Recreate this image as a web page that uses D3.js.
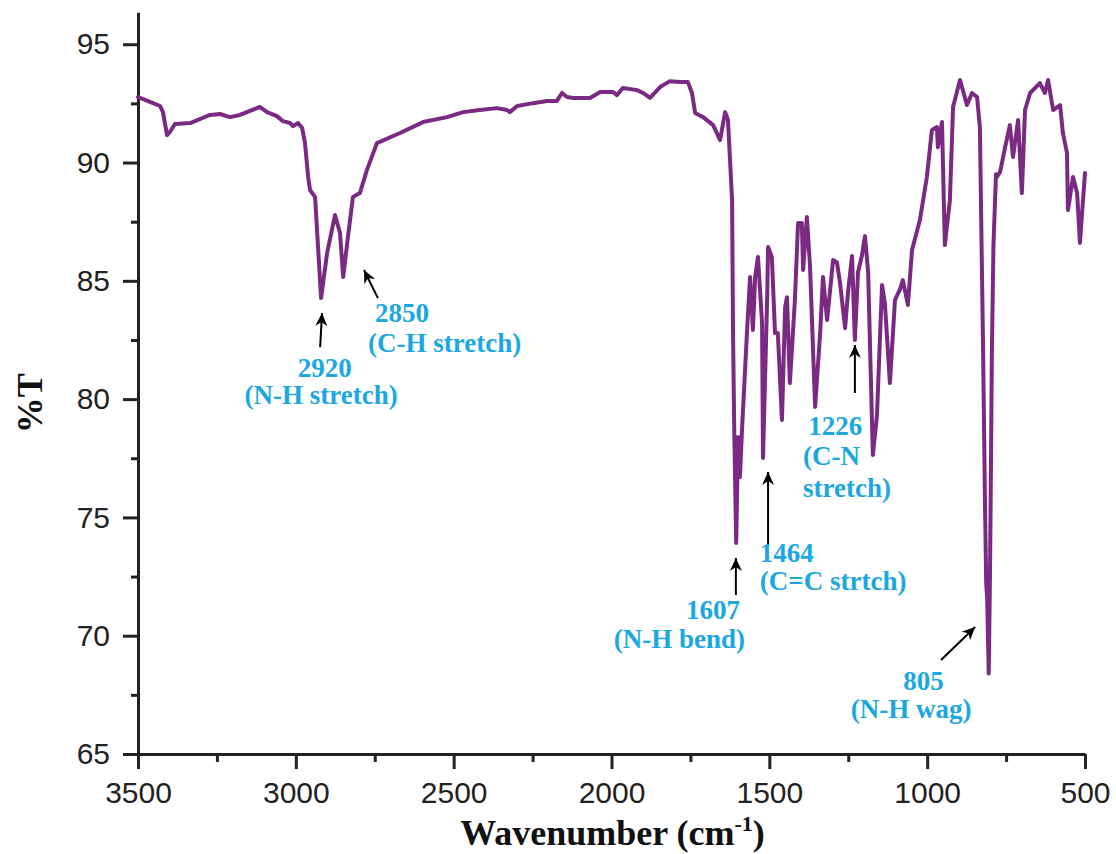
<!DOCTYPE html>
<html>
<head>
<meta charset="utf-8">
<script src="https://cdn.jsdelivr.net/npm/d3@7/dist/d3.min.js"></script>
<style>
  html, body { margin: 0; padding: 0; background: #fff; }
  svg { display: block; }
</style>
</head>
<body>
<svg id="chart" width="1116" height="854"></svg>
<script>
// ---- Data ----
const wavenumber = [3500,3462,3430,3421,3408,3399,3383,3335,3272,3240,3209,3177,3114,3091,3060,3041,3018,3009,2993,2980,2971,2961,2955,2939,2920,2901,2876,2860,2850,2835,2819,2797,2775,2743,2670,2597,2521,2470,2417,2363,2331,2322,2299,2249,2204,2173,2157,2141,2122,2068,2036,1995,1983,1964,1919,1900,1878,1846,1815,1783,1758,1745,1735,1710,1678,1656,1640,1631,1618,1615,1611,1605,1599,1593,1587,1571,1561,1552,1545,1536,1523,1520,1507,1504,1492,1482,1473,1460,1450,1444,1435,1419,1409,1397,1393,1381,1371,1355,1339,1330,1317,1298,1286,1276,1260,1251,1238,1229,1219,1207,1197,1187,1181,1172,1159,1143,1134,1118,1102,1086,1077,1061,1048,1023,1001,985,969,966,953,944,928,918,896,874,858,842,833,823,817,813,810,805,801,798,795,790,782,779,769,753,738,728,712,700,690,674,643,627,617,601,579,570,557,554,538,525,516,500];
const transmittance = [92.77,92.56,92.39,92.13,91.16,91.29,91.63,91.67,92.01,92.05,91.92,92.01,92.35,92.13,91.96,91.75,91.67,91.54,91.67,91.46,90.82,89.39,88.84,88.54,84.27,86.17,87.78,87.02,85.16,86.85,88.54,88.71,89.68,90.82,91.25,91.71,91.92,92.13,92.22,92.30,92.22,92.13,92.39,92.51,92.60,92.60,92.94,92.77,92.73,92.73,92.98,92.98,92.85,93.15,93.06,92.94,92.73,93.19,93.44,93.40,93.40,92.94,92.09,91.92,91.58,90.95,92.13,91.80,88.41,82.79,78.57,73.92,78.40,76.71,78.57,82.79,85.16,82.92,85.16,86.01,83.22,77.51,84.19,86.43,86.01,82.79,82.79,79.12,83.89,84.31,80.68,84.19,87.44,87.44,85.46,87.70,85.58,79.67,82.79,85.16,83.34,85.88,85.79,84.91,83.00,84.48,86.05,82.50,85.37,86.05,86.89,85.37,82.24,77.64,79.33,84.82,84.06,80.68,84.19,84.65,85.03,83.98,86.30,87.57,89.39,91.37,91.50,90.65,91.71,86.51,88.41,92.35,93.49,92.43,92.94,92.77,91.50,82.24,75.74,72.20,71.60,68.40,72.50,77.00,82.00,86.50,89.50,89.39,89.60,90.65,91.58,90.23,91.80,88.71,92.22,92.94,93.36,92.94,93.49,92.22,92.43,91.25,90.40,87.99,89.39,88.71,86.60,89.56];

const xMajorTicks = [3500,3000,2500,2000,1500,1000,500];
const xMinorTicks = [3250,2750,2250,1750,1250,750];
const yMajorTicks = [65,70,75,80,85,90,95];
const yMinorTicks = [67.5,72.5,77.5,82.5,87.5,92.5];

// Annotation text: [wavenumber, %T, anchor, label]
const annotationLabels = [
  [2908, 80.95, "middle", "2920"],
  [2920, 79.78, "middle", "(N-H stretch)"],
  [2749, 83.26, "start", "2850"],
  [2771, 81.99, "start", "(C-H stretch)"],
  [1377, 78.48, "start", "1226"],
  [1393, 77.21, "start", "(C-N"],
  [1393, 75.86, "start", "stretch)"],
  [1530, 73.10, "start", "1464"],
  [1530, 71.95, "start", "(C=C strtch)"],
  [1593, 70.70, "end", "1607"],
  [1577, 69.50, "end", "(N-H bend)"],
  [1012, 67.72, "middle", "805"],
  [1051, 66.52, "middle", "(N-H wag)"]
];
// Arrows: [tail wavenumber, tail %T, tip wavenumber, tip %T]
const annotationArrows = [
  [2923, 82.20, 2917, 83.64],
  [2740, 84.27, 2784, 85.46],
  [1229, 80.26, 1229, 82.29],
  [1504, 73.83, 1504, 76.92],
  [1606, 71.72, 1606, 73.28],
  [956, 68.97, 848, 70.37]
];

// ---- Layout ----
const svg = d3.select("#chart");
const mLeft = 138, mRight = 1085, mTop = 12.3, mBottom = 754;

const x = d3.scaleLinear().domain([3500, 500]).range([mLeft, mRight]);
const y = d3.scaleLinear().domain([65, 96.35]).range([mBottom, mTop]);

const axisColor = "#222";
const tickFont = "'Liberation Sans', Arial, sans-serif";
const serif = "'Liberation Serif', 'Times New Roman', serif";

// Bottom axis
svg.append("g").attr("transform", `translate(0,${mBottom})`)
  .call(d3.axisBottom(x).tickValues(xMajorTicks).tickFormat(d3.format("d")).tickSize(15).tickSizeOuter(0).tickPadding(13));
svg.append("g").attr("transform", `translate(0,${mBottom})`)
  .call(d3.axisBottom(x).tickValues(xMinorTicks).tickFormat("").tickSize(8).tickSizeOuter(0))
  .call(g => g.select(".domain").remove());

// Left axis
svg.append("g").attr("transform", `translate(${mLeft},0)`)
  .call(d3.axisLeft(y).tickValues(yMajorTicks).tickFormat(d3.format("d")).tickSize(15).tickSizeOuter(0).tickPadding(13));
svg.append("g").attr("transform", `translate(${mLeft},0)`)
  .call(d3.axisLeft(y).tickValues(yMinorTicks).tickFormat("").tickSize(7).tickSizeOuter(0))
  .call(g => g.select(".domain").remove());

svg.selectAll(".domain, .tick line").attr("stroke", axisColor).attr("stroke-width", 3);
svg.selectAll(".tick text").attr("fill", axisColor).attr("font-family", tickFont).attr("font-size", 30);

// Axis titles
svg.append("text")
  .attr("x", (mLeft + mRight) / 2 + 1).attr("y", 845)
  .attr("text-anchor", "middle")
  .attr("font-family", serif).attr("font-weight", "bold").attr("font-size", 36).attr("fill", "#111")
  .call(t => {
    t.append("tspan").text("Wavenumber (cm");
    t.append("tspan").attr("font-size", 22).attr("dy", -14).text("-1");
    t.append("tspan").attr("dy", 14).text(")");
  });

svg.append("text")
  .attr("transform", `translate(42,${(mTop + mBottom) / 2 + 20}) rotate(-90)`)
  .attr("text-anchor", "middle")
  .attr("font-family", serif).attr("font-weight", "bold").attr("font-size", 36).attr("fill", "#111")
  .text("%T");

// Spectrum
const pts = wavenumber.map((w, i) => [w, transmittance[i]]);
const line = d3.line().x(d => x(d[0])).y(d => y(d[1])).curve(d3.curveLinear);
svg.append("path")
  .datum(pts)
  .attr("d", line)
  .attr("fill", "none")
  .attr("stroke", "#7b2a83")
  .attr("stroke-width", 4)
  .attr("stroke-linejoin", "round")
  .attr("stroke-linecap", "round");

// Arrow marker
svg.append("defs").append("marker")
  .attr("id", "arrowhead")
  .attr("viewBox", "-14 -7 16 14")
  .attr("refX", 0).attr("refY", 0)
  .attr("markerWidth", 16).attr("markerHeight", 14)
  .attr("markerUnits", "userSpaceOnUse")
  .attr("orient", "auto")
  .append("path")
  .attr("d", "M0,0 L-13,-6 L-9,0 L-13,6 Z")
  .attr("fill", "#000");

svg.append("g").selectAll("line")
  .data(annotationArrows)
  .join("line")
  .attr("x1", d => x(d[0])).attr("y1", d => y(d[1]))
  .attr("x2", d => x(d[2])).attr("y2", d => y(d[3]))
  .attr("stroke", "#000").attr("stroke-width", 2)
  .attr("marker-end", "url(#arrowhead)");

svg.append("g").selectAll("text")
  .data(annotationLabels)
  .join("text")
  .attr("x", d => x(d[0])).attr("y", d => y(d[1]))
  .attr("text-anchor", d => d[2])
  .attr("font-family", serif).attr("font-weight", "bold").attr("font-size", 27)
  .attr("fill", "#1ba7e0")
  .text(d => d[3]);
</script>
</body>
</html>
